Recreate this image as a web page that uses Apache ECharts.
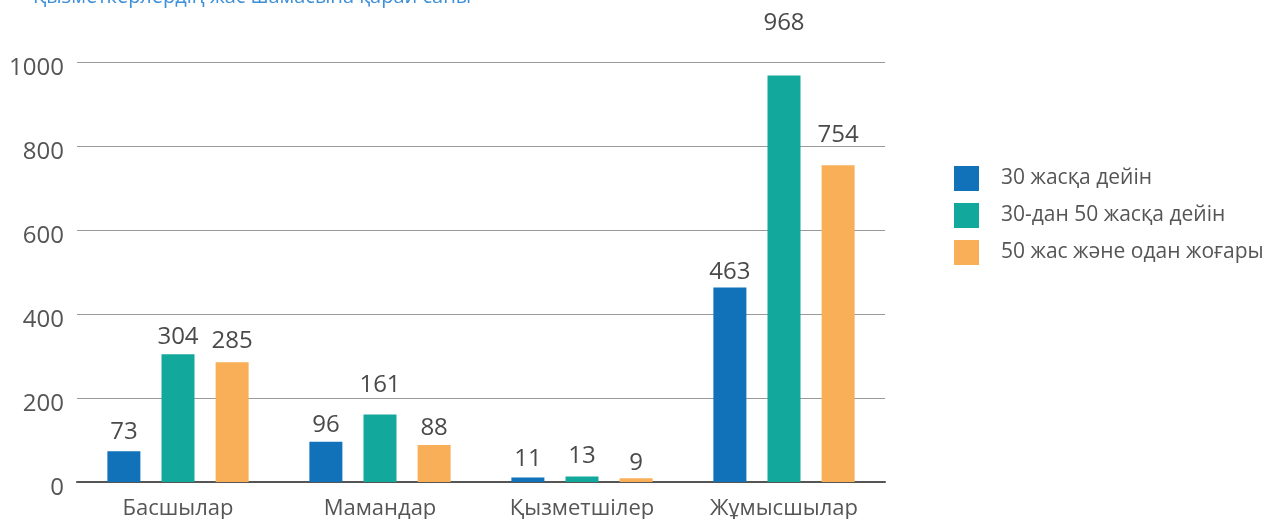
<!DOCTYPE html>
<html>
<head>
<meta charset="utf-8">
<script src="https://cdn.jsdelivr.net/npm/echarts@6/dist/echarts.min.js"></script>
<style>
html, body { margin: 0; padding: 0; background: #fff; }
#chart { width: 1273px; height: 519px; }
</style>
</head>
<body>
<div id="chart"></div>
<script>
// Employee counts by age group for each staff category
const titleText = 'Қызметкерлердің жас шамасына қарай саны';
const categories = ['Басшылар', 'Мамандар', 'Қызметшілер', 'Жұмысшылар'];
const seriesNames = ['30 жасқа дейін', '30-дан 50 жасқа дейін', '50 жас және одан жоғары'];
const under30 = [73, 96, 11, 463];
const from30to50 = [304, 161, 13, 968];
const over50 = [285, 88, 9, 754];
const yTicks = { min: 0, max: 1000, interval: 200 };

// gap between each bar top and its value label, per series
const labelGaps = [
  [7, 5, 6, 3],
  [5, 17, 8, 40],
  [9, 5, 3, 18]
];

const colors = ['#1172BA', '#12A89B', '#F9AF57'];
const font = '"Open Sans", "Liberation Sans", Arial, sans-serif';
const values = [under30, from30to50, over50];

const chart = echarts.init(document.getElementById('chart'), null, { renderer: 'canvas' });

chart.setOption({
  animation: false,
  color: colors,
  textStyle: { fontFamily: font },
  title: {
    text: titleText,
    left: 28,
    top: -18,
    textStyle: { color: '#3D8FD8', fontSize: 20, fontWeight: 'normal', fontFamily: font }
  },
  legend: {
    orient: 'vertical',
    left: 954,
    top: 166,
    padding: 0,
    itemWidth: 25,
    itemHeight: 25,
    itemGap: 12,
    icon: 'rect',
    textStyle: { color: '#555', fontSize: 21, padding: [2, 0, 0, 17], fontFamily: font },
    data: seriesNames
  },
  grid: { left: 77, right: 388, top: 62, bottom: 37, containLabel: false, outerBoundsMode: 'none' },
  xAxis: {
    type: 'category',
    data: categories,
    axisLine: { lineStyle: { color: '#555', width: 2 } },
    axisTick: { show: false },
    axisLabel: { color: '#555', fontSize: 22, margin: 16, fontFamily: font }
  },
  yAxis: {
    type: 'value',
    min: yTicks.min,
    max: yTicks.max,
    interval: yTicks.interval,
    axisLine: { show: false },
    axisTick: { show: false },
    axisLabel: {
      color: '#555',
      fontSize: 24,
      margin: 13,
      verticalAlign: 'top',
      lineHeight: 12,
      fontFamily: font,
      formatter: (v) => String(v)
    },
    splitLine: { lineStyle: { color: '#9a9a9a', width: 1 } }
  },
  series: seriesNames.map((name, i) => ({
    name: name,
    type: 'bar',
    data: values[i].map((v, j) => ({
      value: v,
      label: { distance: labelGaps[i][j] }
    })),
    barWidth: 33,
    barGap: '64%',
    itemStyle: { color: colors[i] },
    label: {
      show: true,
      position: 'top',
      color: '#4a4a4a',
      fontSize: 24,
      fontFamily: font
    }
  }))
});
</script>
</body>
</html>
